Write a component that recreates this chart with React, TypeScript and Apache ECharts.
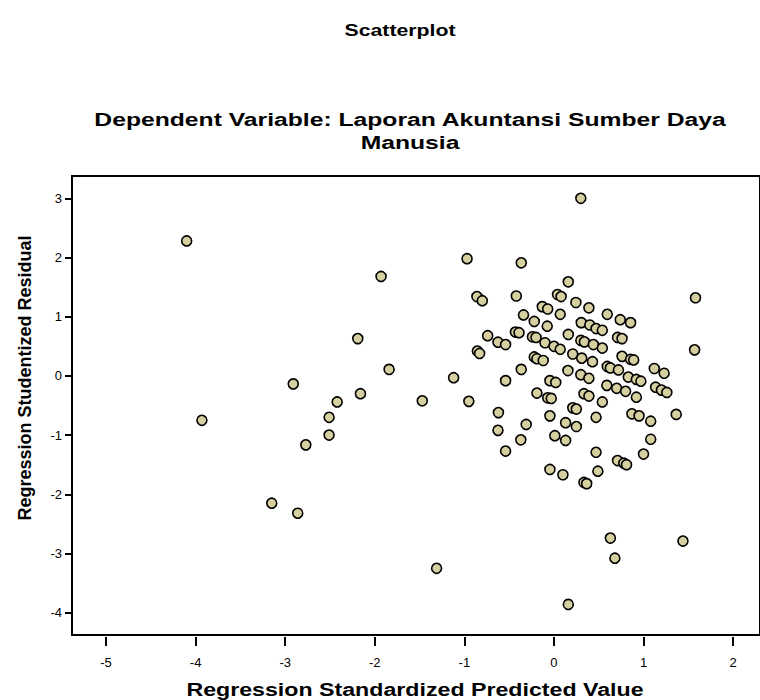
import React, { useEffect, useRef } from "react";
import * as echarts from "echarts";

const xTicks = [-5, -4, -3, -2, -1, 0, 1, 2];
const yTicks = [-4, -3, -2, -1, 0, 1, 2, 3];

const predicted = [
  -4.10, -3.93, -3.15, -2.86, -2.91, -2.77, -2.51, -2.51, -2.42, -2.16,
  -2.19, -1.93, -1.84, -1.47, -1.31, -1.12, -0.97, -0.95, -0.86, -0.80,
  -0.855, -0.83, -0.74, -0.625, -0.54, -0.62, -0.625, -0.54, -0.54, -0.42,
  -0.365, -0.43, -0.39, -0.365, -0.34, -0.31, -0.37, -0.24, -0.20, -0.22,
  -0.22, -0.19, -0.12, -0.19, -0.13, -0.07, -0.075, -0.10, 0.0, 0.07,
  -0.045, 0.02, -0.07, -0.03, -0.045, 0.01, 0.13, 0.13, 0.25, -0.045,
  0.10, 0.04, 0.08, 0.07, 0.16, 0.16, 0.156, 0.21, 0.21, 0.25,
  0.245, 0.30, 0.305, 0.40, 0.39, 0.30, 0.34, 0.44, 0.31, 0.43,
  0.30, 0.39, 0.335, 0.39, 0.335, 0.365, 0.47, 0.54, 0.54, 0.47,
  0.54, 0.47, 0.49, 0.16, 0.595, 0.74, 0.855, 0.71, 0.76, 0.76,
  0.855, 0.89, 0.595, 0.63, 0.72, 0.83, 0.92, 0.97, 0.59, 0.70,
  0.80, 0.92, 1.12, 1.23, 1.135, 1.20, 1.26, 0.87, 0.95, 1.08,
  1.365, 1.08, 1.0, 0.71, 0.78, 0.81, 1.58, 1.57, 1.44, 0.63,
  0.68,
];

const residual = [
  2.28, -0.75, -2.15, -2.32, -0.135, -1.165, -0.70, -1.00, -0.44, -0.30,
  0.63, 1.68, 0.11, -0.42, -3.25, -0.03, 1.98, -0.43, 1.34, 1.27,
  0.42, 0.38, 0.68, 0.57, 0.53, -0.62, -0.92, -1.27, -0.08, 1.35,
  1.91, 0.74, 0.73, 0.11, 1.03, -0.82, -1.08, 0.66, 0.65, 0.92,
  0.32, 0.29, 0.26, -0.29, 1.17, 1.13, 0.84, 0.56, 0.50, 0.45,
  -0.08, -0.11, -0.37, -0.38, -0.675, -1.01, -1.09, -0.79, -0.855, -1.58,
  -1.67, 1.375, 1.34, 1.04, 1.59, 0.70, 0.09, 0.37, -0.54, -0.56,
  1.24, 3.0, 0.90, 0.86, 1.15, 0.60, 0.575, 0.53, 0.30, 0.24,
  0.02, -0.04, -0.30, -0.34, -1.80, -1.82, 0.80, 0.77, 0.47, -0.70,
  -0.44, -1.29, -1.61, -3.86, 1.04, 0.95, 0.90, 0.65, 0.63, 0.33,
  0.28, 0.27, 0.16, 0.135, 0.10, -0.02, -0.06, -0.09, -0.16, -0.21,
  -0.26, -0.36, 0.125, 0.045, -0.19, -0.24, -0.28, -0.64, -0.675, -0.765,
  -0.65, -1.07, -1.32, -1.43, -1.475, -1.50, 1.32, 0.44, -2.79, -2.74,
  -3.08,
];

const FONT = "'Liberation Sans', Arial, sans-serif";

export default function App() {
  const ref = useRef<HTMLDivElement>(null);

  useEffect(() => {
    if (!ref.current) return;
    const chart = echarts.init(ref.current, undefined, { renderer: "svg" });

    const xMin = -5.38;
    const xMax = 2.3;
    const yMin = -4.377;
    const yMax = 3.377;
    const unitX = 89.6;
    const gridLeft = 72;
    const gridTop = 176;
    const gridHeight = 459;

    const points = predicted.map((x, i) => [x, residual[i]]);

    const title = (text: string, x: number, y: number, size: number, sx: number) => ({
      type: "text",
      x,
      y,
      scaleX: sx,
      style: {
        text,
        align: "center",
        verticalAlign: "middle",
        font: `bold ${size}px ${FONT}`,
        fill: "#000",
      },
    });

    chart.setOption({
      animation: false,
      backgroundColor: "#ffffff",
      grid: {
        left: gridLeft,
        top: gridTop,
        width: (xMax - xMin) * unitX,
        height: gridHeight,
        show: true,
        borderColor: "#000000",
        borderWidth: 2,
        backgroundColor: "#ffffff",
      },
      xAxis: {
        type: "value",
        min: xMin,
        max: xMax,
        offset: 2,
        axisLine: { show: false, onZero: false },
        splitLine: { show: false },
        axisTick: {
          show: true,
          length: 9,
          customValues: xTicks,
          lineStyle: { color: "#000", width: 2 },
        },
        axisLabel: {
          customValues: xTicks,
          margin: 19,
          color: "#000",
          fontSize: 13,
          fontFamily: FONT,
        },
      },
      yAxis: {
        type: "value",
        min: yMin,
        max: yMax,
        axisLine: { show: false, onZero: false },
        splitLine: { show: false },
        axisTick: {
          show: true,
          length: 7,
          customValues: yTicks,
          lineStyle: { color: "#000", width: 2 },
        },
        axisLabel: {
          customValues: yTicks,
          margin: 10,
          color: "#000",
          fontSize: 13,
          fontFamily: FONT,
        },
      },
      graphic: [
        title("Scatterplot", 400, 30, 17, 1.25),
        title("Dependent Variable: Laporan Akuntansi Sumber Daya", 410, 120, 19, 1.3),
        title("Manusia", 410, 143, 19, 1.3),
        title("Regression Standardized Predicted Value", 415, 689, 19, 1.22),
        {
          type: "text",
          x: 25,
          y: 378,
          rotation: Math.PI / 2,
          style: {
            text: "Regression Studentized Residual",
            align: "center",
            verticalAlign: "middle",
            font: `bold 18px ${FONT}`,
            fill: "#000",
          },
        },
      ],
      series: [
        {
          type: "scatter",
          data: points,
          symbol: "circle",
          symbolSize: 10,
          itemStyle: {
            color: "#d6cf9f",
            borderColor: "#000000",
            borderWidth: 1.6,
            opacity: 1,
          },
        },
      ],
    });

    return () => chart.dispose();
  }, []);

  return (
    <div
      ref={ref}
      style={{ position: "absolute", left: 0, top: 0, width: 760, height: 700 }}
    />
  );
}
